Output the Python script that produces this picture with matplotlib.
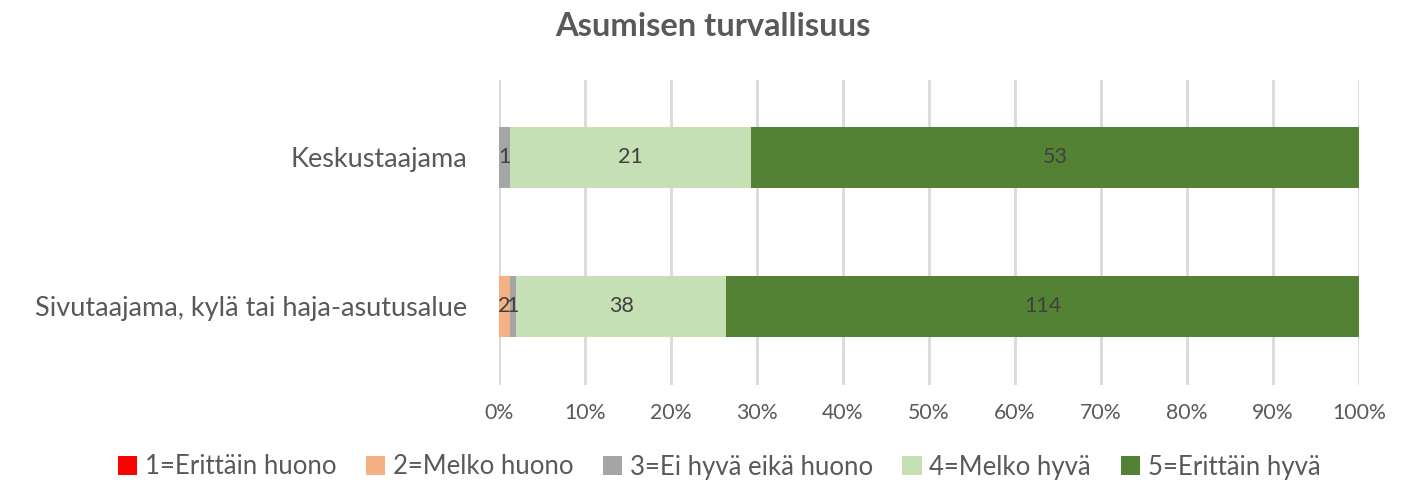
import matplotlib
matplotlib.use("Agg")
import matplotlib.pyplot as plt
import numpy as np
from matplotlib.patches import Patch

plt.rcParams['font.family'] = ['Lato', 'DejaVu Sans']

categories = ["Keskustaajama", "Sivutaajama, kylä tai haja-asutusalue"]
series_names = ["1=Erittäin huono", "2=Melko huono", "3=Ei hyvä eikä huono",
                "4=Melko hyvä", "5=Erittäin hyvä"]
values = {
    "1=Erittäin huono": [0, 0],
    "2=Melko huono": [0, 2],
    "3=Ei hyvä eikä huono": [1, 1],
    "4=Melko hyvä": [21, 38],
    "5=Erittäin hyvä": [53, 114],
}
colors = ["#FF0000", "#F4B183", "#A5A5A5", "#C5E0B4", "#548235"]
xticklabels = ["0%", "10%", "20%", "30%", "40%", "50%", "60%", "70%", "80%", "90%", "100%"]

fig = plt.figure(figsize=(14.2, 4.84), dpi=100)
ax = fig.add_axes([499/1420, 1-385/484, 860/1420, 305/484])

data = np.array([values[s] for s in series_names], dtype=float)
totals = data.sum(axis=0)
pct = data / totals * 100
y = np.arange(len(categories))
left = np.zeros(len(categories))
for i, s in enumerate(series_names):
    ax.barh(y, pct[i], left=left, height=0.41, color=colors[i], zorder=3)
    for j in range(len(categories)):
        if data[i, j] > 0:
            ax.text(left[j] + pct[i, j] / 2, y[j], f"{int(data[i, j])}",
                    ha="center", va="center", fontsize=15.5, color="#404040", zorder=4)
    left += pct[i]

ax.set_xlim(0, 100)
ax.set_ylim(1.53, -0.52)
ax.set_yticks(y)
ax.set_yticklabels(categories, fontsize=19.5, color="#595959")
ax.set_xticks(np.arange(0, 101, 10))
ax.set_xticklabels(xticklabels, fontsize=15.3, color="#595959")
ax.tick_params(length=0)
ax.tick_params(axis='x', pad=13)
ax.tick_params(axis='y', pad=23)
ax.grid(axis='x', color="#D9D9D9", linewidth=2, zorder=0)
for sp in ax.spines.values():
    sp.set_visible(False)

fig.text(713/1420, 1-27/484, "Asumisen turvallisuus", ha="center", va="center",
         fontsize=23.5, fontweight="bold", color="#595959")

handles = [Patch(facecolor=c, label=s) for c, s in zip(colors, series_names)]
fig.legend(handles=handles, loc="center", bbox_to_anchor=(719/1420, 1-467/484), ncol=5,
           frameon=False, fontsize=18.5, handlelength=0.75, handleheight=0.75,
           handletextpad=0.3, columnspacing=1.15, labelcolor="#595959")

fig.savefig("out.png", dpi=100)
